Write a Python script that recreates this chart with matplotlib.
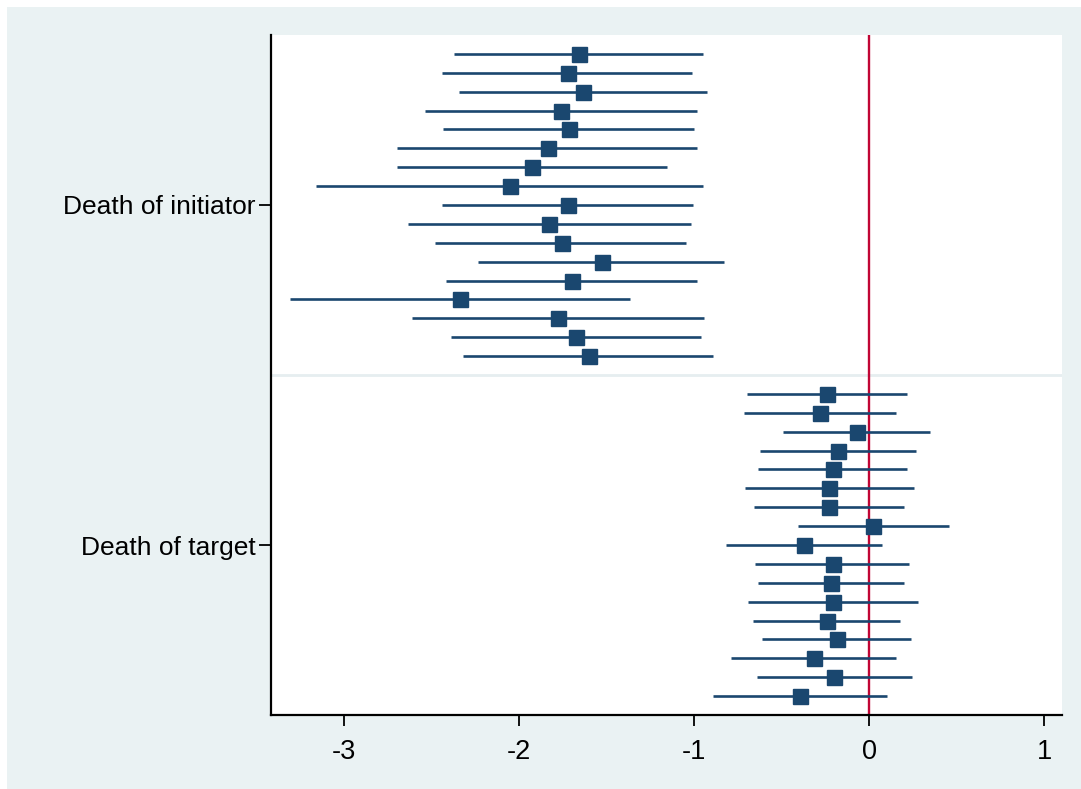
import numpy as np
import matplotlib
matplotlib.use('Agg')
import matplotlib.pyplot as plt
from matplotlib.patches import Rectangle

plt.rcParams['font.family'] = ['Liberation Sans', 'DejaVu Sans']

# coefficients and 95% CIs, top to bottom
init_coef = [-1.658, -1.723, -1.633, -1.763, -1.713, -1.837, -1.926, -2.050, -1.723,
             -1.827, -1.757, -1.529, -1.697, -2.337, -1.777, -1.673, -1.603]
init_lo = [-2.373, -2.443, -2.345, -2.537, -2.434, -2.696, -2.700, -3.162, -2.438,
           -2.635, -2.478, -2.234, -2.416, -3.309, -2.610, -2.388, -2.320]
init_hi = [-0.949, -1.012, -0.928, -0.987, -1.000, -0.983, -1.156, -0.949, -1.008,
           -1.017, -1.046, -0.833, -0.987, -1.369, -0.947, -0.962, -0.891]

targ_coef = [-0.240, -0.280, -0.070, -0.181, -0.209, -0.228, -0.228, 0.023, -0.375,
             -0.209, -0.221, -0.205, -0.240, -0.187, -0.319, -0.200, -0.399]
targ_lo = [-0.698, -0.717, -0.494, -0.627, -0.637, -0.711, -0.658, -0.409, -0.820,
           -0.652, -0.637, -0.692, -0.663, -0.614, -0.791, -0.643, -0.894]
targ_hi = [0.213, 0.154, 0.346, 0.268, 0.213, 0.253, 0.198, 0.452, 0.074,
           0.228, 0.198, 0.278, 0.173, 0.238, 0.154, 0.243, 0.099]

group_labels = ['Death of initiator', 'Death of target']
xticks = [-3, -2, -1, 0, 1]

navy = '#1a476f'
bg = '#eaf2f3'

fig = plt.figure(figsize=(10.81, 7.89), dpi=100)
fig.patch.set_facecolor('white')
fig.patches.append(Rectangle((7 / 1081, 0), 1 - 7 / 1081, 1 - 7 / 789,
                             transform=fig.transFigure, facecolor=bg,
                             edgecolor='none', zorder=-10))

ax = fig.add_axes([271 / 1081, 1 - 715 / 789, (1062 - 271) / 1081, (715 - 35) / 789])
ax.set_facecolor('white')

n = len(init_coef)
pos1 = np.arange(n)
pos2 = np.arange(n) + n + 1

# separator between the two groups
ax.axhline(n, color='#e6eef0', lw=2, zorder=1)
ax.axvline(0, color='#c10534', lw=1.7, zorder=2)

for pos, c, lo, hi in [(pos1, init_coef, init_lo, init_hi), (pos2, targ_coef, targ_lo, targ_hi)]:
    c = np.array(c)
    lo = np.array(lo)
    hi = np.array(hi)
    ax.hlines(pos, lo, hi, color=navy, lw=1.9, zorder=3)
    ax.plot(c, pos, 's', color=navy, markersize=10.8, zorder=4)

ax.set_xlim(-3.417, 1.10)
ax.set_ylim(2 * n + 1, -1)

ax.set_yticks([pos1[n // 2], pos2[n // 2]])
ax.set_yticklabels(group_labels)
ax.set_xticks(xticks)
ax.set_xticklabels([str(t) for t in xticks])

ax.tick_params(axis='y', length=9, width=1.3, pad=2, labelsize=19)
ax.tick_params(axis='x', length=8, width=1.3, pad=9, labelsize=19.5)

for s in ['top', 'right']:
    ax.spines[s].set_visible(False)
for s in ['left', 'bottom']:
    ax.spines[s].set_linewidth(1.6)
    ax.spines[s].set_color('black')

fig.savefig('out.png', dpi=100, facecolor=fig.get_facecolor())
